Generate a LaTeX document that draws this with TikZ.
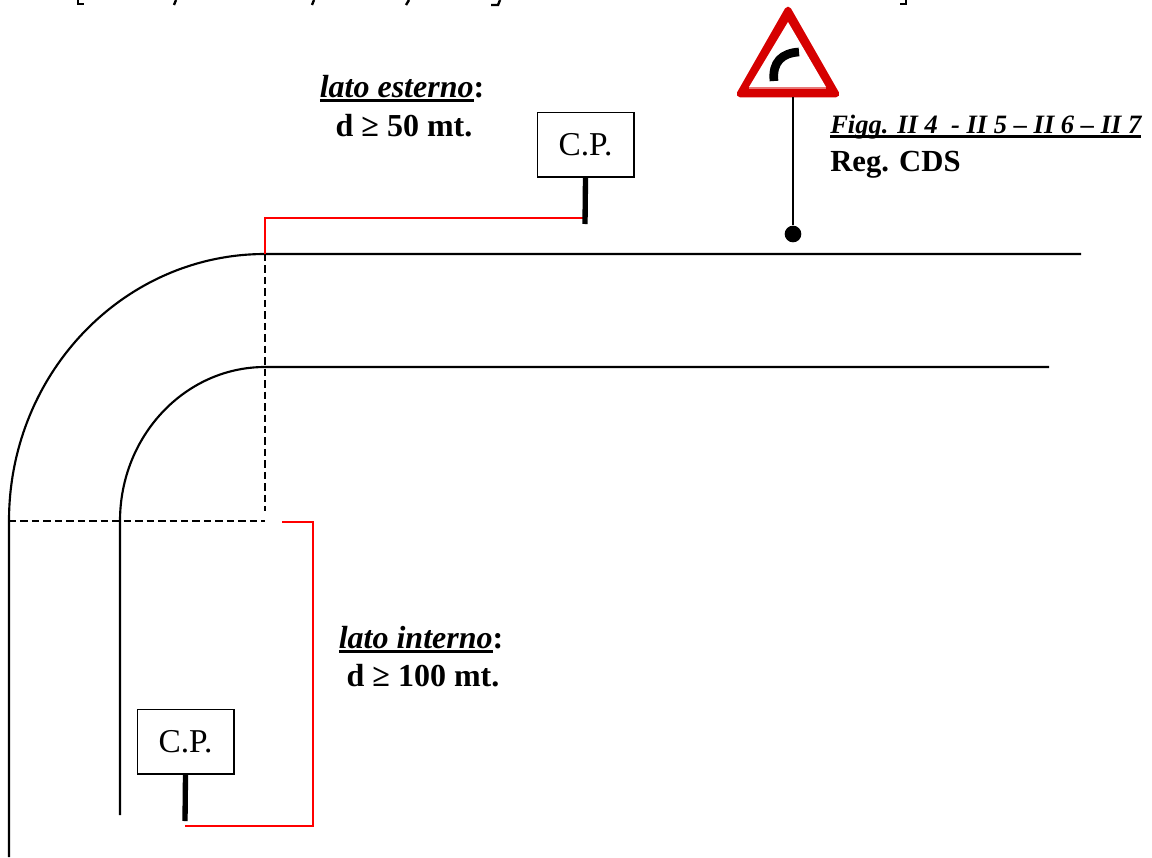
\documentclass[tikz,border=0pt]{standalone}
\usepackage{fontspec}
\setmainfont{Liberation Serif}
\definecolor{signred}{RGB}{214,0,0}
\definecolor{signpink}{RGB}{232,120,120}
\newlength{\ulwd}
\newcommand{\thickul}[1]{\settowidth{\ulwd}{#1}\rlap{\rule[-3.4pt]{\ulwd}{1.9pt}}#1}
\tikzset{
  x=0.75pt,y=-0.75pt,
  road/.style={line width=1.6pt,black},
  guide/.style={line width=1.2pt,black,dash pattern=on 5.6pt off 3pt},
  redline/.style={line width=1.3pt,red},
  post/.style={line width=4pt,black},
  cpbox/.style={draw=black,line width=1pt,fill=white,minimum width=72.5pt,minimum height=48.5pt,inner sep=0pt,font=\fontsize{25}{28}\selectfont},
  lab/.style={inner sep=0pt,font=\fontsize{24}{28}\selectfont\bfseries},
  frag/.style={line width=1.8pt,black}
}
\begin{document}
\begin{tikzpicture}
\useasboundingbox (0,0) rectangle (1152,857);
% named points
\coordinate (outerStart) at (9,857);
\coordinate (outerTan) at (9,521);
\coordinate (outerTop) at (265,254);
\coordinate (outerEnd) at (1081,254);
\coordinate (innerStart) at (120,815);
\coordinate (innerTan) at (120,521);
\coordinate (innerTop) at (265,367);
\coordinate (innerEnd) at (1049,367);
\coordinate (dashCorner) at (265,521);
\coordinate (dashVEnd) at (265,511);
\coordinate (redA) at (265,218);
\coordinate (redB) at (585,218);
\coordinate (redC) at (185,826);
\coordinate (redD) at (313,826);
\coordinate (redE) at (313,522);
\coordinate (redF) at (282,522);
% roads
\draw[road] (outerStart) -- (outerTan) .. controls (9,373) and (124,254) .. (outerTop) -- (outerEnd);
\draw[road] (innerStart) -- (innerTan) .. controls (120,436) and (185,367) .. (innerTop) -- (innerEnd);
% guides
\draw[guide] (outerTop) -- (dashVEnd);
\draw[guide] (outerTan) -- (dashCorner);
% red measures
\draw[redline] (outerTop) -- (redA) -- (redB);
\draw[redline] (redC) -- (redD) -- (redE) -- (redF);
% C.P. signs
\node[cpbox] (cpTop) at (585.5,144.5) {C.P.};
\coordinate (cpTopFoot) at (585,224);
\draw[post] (cpTop.south) -- (cpTopFoot);
\node[cpbox] (cpLow) at (185.5,741.5) {C.P.};
\coordinate (cpLowFoot) at (185,821);
\draw[post] (cpLow.south) -- (cpLowFoot);
% warning sign
\filldraw[signred,line width=5pt,line join=round] (788,10) -- (836,94) -- (740,94) -- cycle;
\fill[white] (788,22) -- (826,87) -- (749,87) -- cycle;
\fill[signpink] (749,87) rectangle (826,89);
\draw[line width=6.5pt,black] (774,81) .. controls (772,62) and (782,53) .. (799,52);
\coordinate (poleTop) at (793,97);
\node[circle,fill=black,inner sep=0pt,minimum size=12.5pt] (poleDot) at (793,234) {};
\draw[line width=1.2pt,black] (poleTop) -- (poleDot);
% labels
\node[lab,anchor=base] (l1) at (402,97) {\thickul{\textit{lato esterno}}:};
\node[lab,anchor=base] (l2) at (404,136) {d ≥ 50 mt.};
\node[lab,anchor=base] (l3) at (421,648) {\thickul{\textit{lato interno}}:};
\node[lab,anchor=base] (l4) at (423,686) {d ≥ 100 mt.};
\node[inner sep=0pt,anchor=base west,font=\fontsize{19.9}{22}\selectfont\bfseries\itshape] (l5) at (830,133) {\thickul{Figg. II 4\ \ - II 5 – II 6 – II 7}};
\node[inner sep=0pt,anchor=base west,font=\fontsize{23}{26}\selectfont\bfseries] (l6) at (830,171) {Reg. CDS};
% clipped remains of the cut-off first line
\draw[frag] (78,0) -- (78,4) -- (84,4);
\draw[frag] (176,0) -- (174,5);
\draw[frag] (314,0) -- (312,5);
\draw[frag] (409,0) -- (406,5);
\draw[frag] (491,5) -- (498,5) -- (500,0);
\draw[frag] (906,0) -- (906,4) -- (900,4);
\end{tikzpicture}
\end{document}
